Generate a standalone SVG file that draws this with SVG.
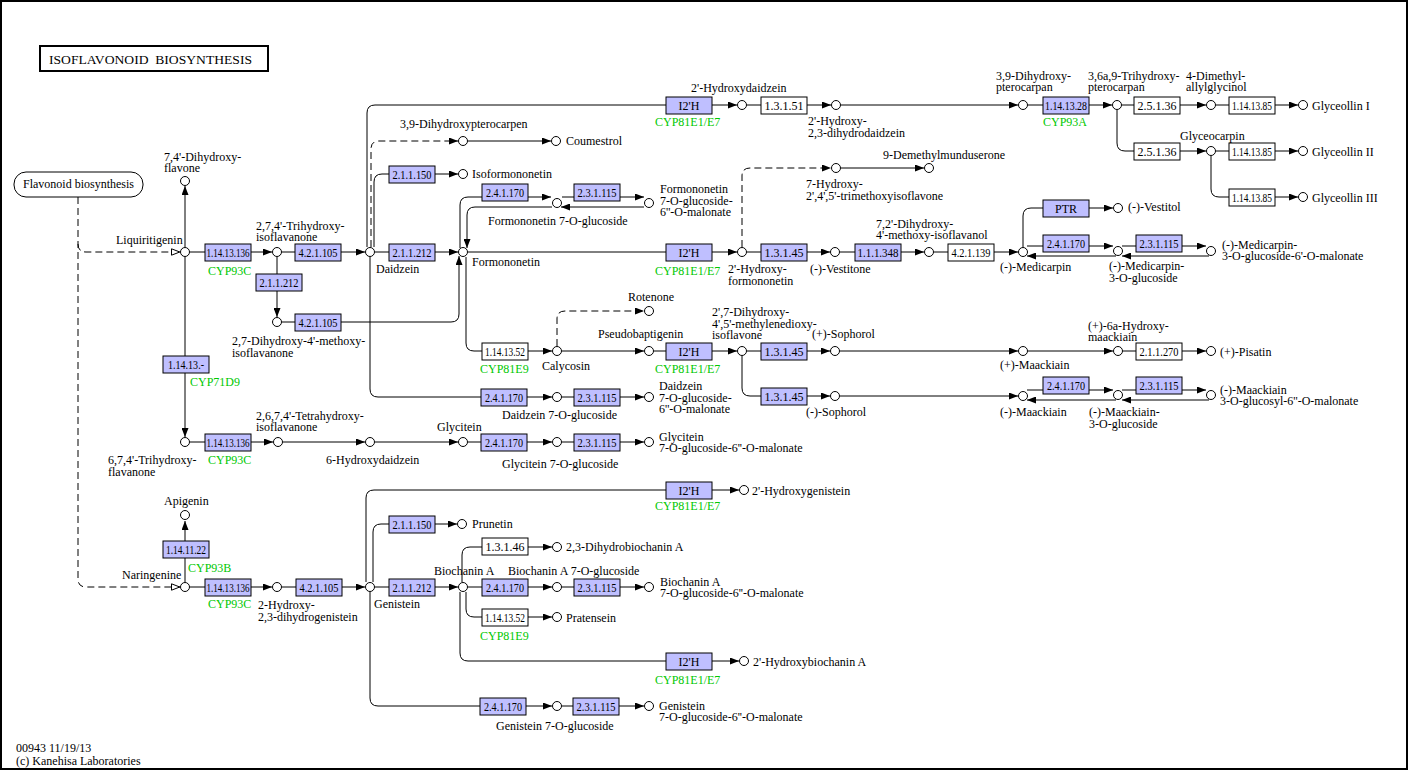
<svg xmlns="http://www.w3.org/2000/svg" width="1411" height="771" viewBox="0 0 1411 771">
<style>
text{font-family:"Liberation Serif","Times New Roman",serif;font-size:12px;fill:#000}
.g{fill:#00c800}
.ec{text-anchor:middle}
.b{fill:#bfbfff;stroke:#000;stroke-width:1}
.w{fill:#fff;stroke:#000;stroke-width:1}
circle{fill:#fff;stroke:#000;stroke-width:1}
.ln{fill:none;stroke:#000;stroke-width:1}
.ar{marker-end:url(#a)}
.op{marker-end:url(#o)}
.da{stroke-dasharray:7 4}
</style>
<defs>
<marker id="a" viewBox="0 0 9 7" refX="9" refY="3.5" markerWidth="9" markerHeight="7" markerUnits="userSpaceOnUse" orient="auto"><path d="M0,0 L9,3.5 L0,7 z" fill="#000" stroke="none"/></marker>
<marker id="o" viewBox="0 0 10 8" refX="9.5" refY="4" markerWidth="10" markerHeight="8" markerUnits="userSpaceOnUse" orient="auto"><path d="M1,0.8 L9.3,4 L1,7.2 z" fill="#fff" stroke="#000" stroke-width="1"/></marker>
</defs>
<rect x="0" y="0" width="1411" height="771" fill="#fff"/>
<rect x="1" y="1" width="1406" height="768" fill="none" stroke="#000" stroke-width="2"/>
<g id="title"><rect x="40" y="46" width="228" height="25" fill="#fff" stroke="#000" stroke-width="2"/><text x="49" y="64" font-size="13" textLength="203" lengthAdjust="spacingAndGlyphs">ISOFLAVONOID&#160; BIOSYNTHESIS</text></g>
<g id="footer"><text x="16" y="752">00943 11/19/13</text><text x="16" y="765">(c) Kanehisa Laboratories</text></g>
<g id="map-flavonoid"><rect x="14" y="172" width="129" height="25" rx="12" fill="#fff" stroke="#000"/><text x="78.5" y="188" text-anchor="middle">Flavonoid biosynthesis</text></g>

<g id="connectors">
<path class="ln da op" d="M78,197 V579 Q78,587 86,587 H180"/>
<path class="ln da op" d="M78,244 Q78,252 86,252 H180"/>
<path class="ln ar" d="M185,247 V186"/>
<path class="ln ar" d="M185,257 V437"/>
<path class="ln ar" d="M190,252 H272"/>
<path class="ln ar" d="M282,252 H365"/>
<path class="ln ar" d="M375,252 H458"/>
<path class="ln ar" d="M468,252 H737"/>
<path class="ln ar" d="M747,252 H830"/>
<path class="ln ar" d="M840,252 H924"/>
<path class="ln ar" d="M934,252 H1018"/>
<path class="ln ar" d="M1023,247 V216 Q1023,208 1031,208 H1113"/>
<path class="ln ar" d="M1027,246 H1113"/>
<path class="ln ar" d="M1116,256 H1027"/>
<path class="ln ar" d="M1122,246 H1206"/>
<path class="ln ar" d="M1209,256 H1122"/>
<path class="ln ar" d="M367,247 V113 Q367,105 375,105 H737"/>
<path class="ln ar" d="M747,105 H831"/>
<path class="ln ar" d="M841,105 H1018"/>
<path class="ln ar" d="M1028,105 H1112"/>
<path class="ln ar" d="M1122,105 H1206"/>
<path class="ln ar" d="M1216,105 H1298"/>
<path class="ln ar" d="M1117,110 V143 Q1117,151 1125,151 H1206"/>
<path class="ln ar" d="M1216,151 H1298"/>
<path class="ln ar" d="M1211,156 V189 Q1211,197 1219,197 H1298"/>
<path class="ln da ar" d="M371,247 V149 Q371,141 379,141 H458"/>
<path class="ln ar" d="M468,141 H551"/>
<path class="ln ar" d="M374,247 V182 Q374,174 382,174 H458"/>
<path class="ln ar" d="M460,248 V205 Q460,197 468,197 H551"/>
<path class="ln ar" d="M562,197 H644"/>
<path class="ln ar" d="M644,207 H561"/>
<path class="ln ar" d="M552,207 H475 Q467,207 467,215 V248"/>
<path class="ln ar" d="M277,257 V317"/>
<path class="ln ar" d="M282,322 H451 Q459,322 459,314 V256"/>
<path class="ln ar" d="M466,257 V343 Q466,351 474,351 H552"/>
<path class="ln da ar" d="M557,346 V319 Q557,311 565,311 H644"/>
<path class="ln ar" d="M562,351 H644"/>
<path class="ln ar" d="M654,351 H737"/>
<path class="ln ar" d="M747,351 H830"/>
<path class="ln ar" d="M840,351 H1018"/>
<path class="ln ar" d="M1028,351 H1113"/>
<path class="ln ar" d="M1123,351 H1206"/>
<path class="ln ar" d="M742,356 V388 Q742,396 750,396 H830"/>
<path class="ln ar" d="M840,396 H1018"/>
<path class="ln ar" d="M1027,390 H1113"/>
<path class="ln ar" d="M1116,400 H1027"/>
<path class="ln ar" d="M1122,390 H1206"/>
<path class="ln ar" d="M1209,400 H1122"/>
<path class="ln ar" d="M370,257 V389 Q370,397 378,397 H552"/>
<path class="ln ar" d="M562,397 H644"/>
<path class="ln ar" d="M190,442 H273"/>
<path class="ln ar" d="M283,442 H365"/>
<path class="ln ar" d="M375,442 H458"/>
<path class="ln ar" d="M468,442 H552"/>
<path class="ln ar" d="M562,442 H644"/>
<path class="ln ar" d="M185,582 V521"/>
<path class="ln ar" d="M190,587 H272"/>
<path class="ln ar" d="M282,587 H365"/>
<path class="ln ar" d="M366,582 V498 Q366,490 374,490 H739"/>
<path class="ln ar" d="M373,582 V532 Q373,524 381,524 H457"/>
<path class="ln ar" d="M375,587 H458"/>
<path class="ln ar" d="M462,582 V555 Q462,547 470,547 H552"/>
<path class="ln ar" d="M468,587 H552"/>
<path class="ln ar" d="M562,587 H644"/>
<path class="ln ar" d="M466,592 V609 Q466,617 474,617 H552"/>
<path class="ln ar" d="M460,592 V653 Q460,661 468,661 H739"/>
<path class="ln ar" d="M370,592 V698 Q370,706 378,706 H552"/>
<path class="ln ar" d="M562,706 H644"/>
<path class="ln da ar" d="M742,247 V176 Q742,168 750,168 H831"/>
<path class="ln ar" d="M841,168 H924"/>
</g>

<g id="enzymes">
<g id="e1"><rect class="b" x="205" y="244" width="46" height="17"/><text class="ec" x="228" y="257" textLength="43" lengthAdjust="spacingAndGlyphs">1.14.13.136</text><text class="g" x="208" y="275">CYP93C</text></g>
<g id="e2"><rect class="b" x="295" y="244" width="46" height="17"/><text class="ec" x="318" y="257" textLength="39" lengthAdjust="spacingAndGlyphs">4.2.1.105</text></g>
<g id="e3"><rect class="b" x="389" y="244" width="46" height="17"/><text class="ec" x="412" y="257" textLength="39" lengthAdjust="spacingAndGlyphs">2.1.1.212</text></g>
<g id="e4"><rect class="b" x="666" y="244" width="46" height="17"/><text class="ec" x="689" y="257">I2'H</text><text class="g" x="655" y="275">CYP81E1/E7</text></g>
<g id="e5"><rect class="b" x="761" y="244" width="46" height="17"/><text class="ec" x="784" y="257">1.3.1.45</text></g>
<g id="e6"><rect class="b" x="855" y="244" width="46" height="17"/><text class="ec" x="878" y="257" textLength="41" lengthAdjust="spacingAndGlyphs">1.1.1.348</text></g>
<g id="e7"><rect class="w" x="948" y="244" width="46" height="17"/><text class="ec" x="971" y="257" textLength="39" lengthAdjust="spacingAndGlyphs">4.2.1.139</text></g>
<g id="e8"><rect class="b" x="1043" y="200" width="46" height="17"/><text class="ec" x="1066" y="213">PTR</text></g>
<g id="e9"><rect class="b" x="1043" y="235" width="46" height="17"/><text class="ec" x="1066" y="248" textLength="38" lengthAdjust="spacingAndGlyphs">2.4.1.170</text></g>
<g id="e10"><rect class="b" x="1136" y="235" width="46" height="17"/><text class="ec" x="1159" y="248" textLength="39" lengthAdjust="spacingAndGlyphs">2.3.1.115</text></g>
<g id="e11"><rect class="b" x="666" y="97" width="46" height="17"/><text class="ec" x="689" y="110">I2'H</text><text class="g" x="655" y="126">CYP81E1/E7</text></g>
<g id="e12"><rect class="w" x="761" y="97" width="46" height="17"/><text class="ec" x="784" y="110">1.3.1.51</text></g>
<g id="e13"><rect class="b" x="1043" y="97" width="46" height="17"/><text class="ec" x="1066" y="110" textLength="42" lengthAdjust="spacingAndGlyphs">1.14.13.28</text><text class="g" x="1043" y="126">CYP93A</text></g>
<g id="e14"><rect class="w" x="1134" y="97" width="46" height="17"/><text class="ec" x="1157" y="110">2.5.1.36</text></g>
<g id="e15"><rect class="w" x="1229" y="97" width="46" height="17"/><text class="ec" x="1252" y="110" textLength="40" lengthAdjust="spacingAndGlyphs">1.14.13.85</text></g>
<g id="e16"><rect class="w" x="1134" y="143" width="46" height="17"/><text class="ec" x="1157" y="156">2.5.1.36</text></g>
<g id="e17"><rect class="w" x="1229" y="143" width="46" height="17"/><text class="ec" x="1252" y="156" textLength="40" lengthAdjust="spacingAndGlyphs">1.14.13.85</text></g>
<g id="e18"><rect class="w" x="1229" y="189" width="46" height="17"/><text class="ec" x="1252" y="202" textLength="40" lengthAdjust="spacingAndGlyphs">1.14.13.85</text></g>
<g id="e19"><rect class="b" x="389" y="166" width="46" height="17"/><text class="ec" x="412" y="179" textLength="39" lengthAdjust="spacingAndGlyphs">2.1.1.150</text></g>
<g id="e20"><rect class="b" x="482" y="184" width="46" height="17"/><text class="ec" x="505" y="197" textLength="38" lengthAdjust="spacingAndGlyphs">2.4.1.170</text></g>
<g id="e21"><rect class="b" x="574" y="184" width="46" height="17"/><text class="ec" x="597" y="197" textLength="39" lengthAdjust="spacingAndGlyphs">2.3.1.115</text></g>
<g id="e22"><rect class="b" x="256" y="274" width="46" height="17"/><text class="ec" x="279" y="287" textLength="39" lengthAdjust="spacingAndGlyphs">2.1.1.212</text></g>
<g id="e23"><rect class="b" x="295" y="314" width="46" height="17"/><text class="ec" x="318" y="327" textLength="39" lengthAdjust="spacingAndGlyphs">4.2.1.105</text></g>
<g id="e24"><rect class="b" x="163" y="356" width="46" height="17"/><text class="ec" x="186" y="369" textLength="36" lengthAdjust="spacingAndGlyphs">1.14.13.-</text><text class="g" x="190" y="386">CYP71D9</text></g>
<g id="e25"><rect class="w" x="482" y="343" width="46" height="17"/><text class="ec" x="505" y="356" textLength="40" lengthAdjust="spacingAndGlyphs">1.14.13.52</text><text class="g" x="480" y="373">CYP81E9</text></g>
<g id="e26"><rect class="b" x="666" y="343" width="46" height="17"/><text class="ec" x="689" y="356">I2'H</text><text class="g" x="655" y="373">CYP81E1/E7</text></g>
<g id="e27"><rect class="b" x="761" y="343" width="46" height="17"/><text class="ec" x="784" y="356">1.3.1.45</text></g>
<g id="e28"><rect class="w" x="1136" y="343" width="46" height="17"/><text class="ec" x="1159" y="356" textLength="39" lengthAdjust="spacingAndGlyphs">2.1.1.270</text></g>
<g id="e29"><rect class="b" x="761" y="388" width="46" height="17"/><text class="ec" x="784" y="401">1.3.1.45</text></g>
<g id="e30"><rect class="b" x="1043" y="377" width="46" height="17"/><text class="ec" x="1066" y="390" textLength="38" lengthAdjust="spacingAndGlyphs">2.4.1.170</text></g>
<g id="e31"><rect class="b" x="1136" y="377" width="46" height="17"/><text class="ec" x="1159" y="390" textLength="39" lengthAdjust="spacingAndGlyphs">2.3.1.115</text></g>
<g id="e32"><rect class="b" x="481" y="389" width="46" height="17"/><text class="ec" x="504" y="402" textLength="38" lengthAdjust="spacingAndGlyphs">2.4.1.170</text></g>
<g id="e33"><rect class="b" x="574" y="389" width="46" height="17"/><text class="ec" x="597" y="402" textLength="39" lengthAdjust="spacingAndGlyphs">2.3.1.115</text></g>
<g id="e34"><rect class="b" x="205" y="434" width="46" height="17"/><text class="ec" x="228" y="447" textLength="43" lengthAdjust="spacingAndGlyphs">1.14.13.136</text><text class="g" x="208" y="464">CYP93C</text></g>
<g id="e35"><rect class="b" x="481" y="434" width="46" height="17"/><text class="ec" x="504" y="447" textLength="38" lengthAdjust="spacingAndGlyphs">2.4.1.170</text></g>
<g id="e36"><rect class="b" x="574" y="434" width="46" height="17"/><text class="ec" x="597" y="447" textLength="39" lengthAdjust="spacingAndGlyphs">2.3.1.115</text></g>
<g id="e37"><rect class="b" x="163" y="541" width="46" height="17"/><text class="ec" x="186" y="554" textLength="40" lengthAdjust="spacingAndGlyphs">1.14.11.22</text><text class="g" x="188" y="572">CYP93B</text></g>
<g id="e38"><rect class="b" x="205" y="579" width="46" height="17"/><text class="ec" x="228" y="592" textLength="43" lengthAdjust="spacingAndGlyphs">1.14.13.136</text><text class="g" x="208" y="608">CYP93C</text></g>
<g id="e39"><rect class="b" x="296" y="579" width="46" height="17"/><text class="ec" x="319" y="592" textLength="39" lengthAdjust="spacingAndGlyphs">4.2.1.105</text></g>
<g id="e40"><rect class="b" x="666" y="482" width="46" height="17"/><text class="ec" x="689" y="495">I2'H</text><text class="g" x="655" y="510">CYP81E1/E7</text></g>
<g id="e41"><rect class="b" x="389" y="516" width="46" height="17"/><text class="ec" x="412" y="529" textLength="39" lengthAdjust="spacingAndGlyphs">2.1.1.150</text></g>
<g id="e42"><rect class="b" x="389" y="579" width="46" height="17"/><text class="ec" x="412" y="592" textLength="39" lengthAdjust="spacingAndGlyphs">2.1.1.212</text></g>
<g id="e43"><rect class="w" x="482" y="538" width="46" height="17"/><text class="ec" x="505" y="551">1.3.1.46</text></g>
<g id="e44"><rect class="b" x="482" y="579" width="46" height="17"/><text class="ec" x="505" y="592" textLength="38" lengthAdjust="spacingAndGlyphs">2.4.1.170</text></g>
<g id="e45"><rect class="b" x="574" y="579" width="46" height="17"/><text class="ec" x="597" y="592" textLength="39" lengthAdjust="spacingAndGlyphs">2.3.1.115</text></g>
<g id="e46"><rect class="w" x="482" y="609" width="46" height="17"/><text class="ec" x="505" y="622" textLength="40" lengthAdjust="spacingAndGlyphs">1.14.13.52</text><text class="g" x="480" y="640">CYP81E9</text></g>
<g id="e47"><rect class="b" x="666" y="653" width="46" height="17"/><text class="ec" x="689" y="666">I2'H</text><text class="g" x="655" y="684">CYP81E1/E7</text></g>
<g id="e48"><rect class="b" x="480" y="698" width="46" height="17"/><text class="ec" x="503" y="711" textLength="38" lengthAdjust="spacingAndGlyphs">2.4.1.170</text></g>
<g id="e49"><rect class="b" x="573" y="698" width="46" height="17"/><text class="ec" x="596" y="711" textLength="39" lengthAdjust="spacingAndGlyphs">2.3.1.115</text></g>
</g>

<g id="compounds">
<g id="liquiritigenin"><circle cx="185" cy="252" r="4.5"/><text x="116" y="244">Liquiritigenin</text></g>
<g id="dihydroxyflavone"><circle cx="185" cy="181" r="4.5"/><text x="164" y="160.5">7,4'-Dihydroxy-</text><text x="164" y="172">flavone</text></g>
<g id="trihydroxyisoflavanone"><circle cx="277" cy="252" r="4.5"/><text x="256" y="229.5">2,7,4'-Trihydroxy-</text><text x="256" y="241">isoflavanone</text></g>
<g id="daidzein"><circle cx="370" cy="252" r="4.5"/><text x="376" y="273">Daidzein</text></g>
<g id="formononetin"><circle cx="463" cy="252" r="4.5"/><text x="472" y="266">Formononetin</text></g>
<g id="hydroxyformononetin"><circle cx="742" cy="252" r="4.5"/><text x="728" y="273">2'-Hydroxy-</text><text x="728" y="284.5">formononetin</text></g>
<g id="vestitone"><circle cx="835" cy="252" r="4.5"/><text x="810" y="273">(-)-Vestitone</text></g>
<g id="isoflavanol"><circle cx="929" cy="252" r="4.5"/><text x="876" y="227.5">7,2'-Dihydroxy-</text><text x="876" y="239">4'-methoxy-isoflavanol</text></g>
<g id="medicarpin"><circle cx="1023" cy="252" r="4.5"/><text x="1000" y="271">(-)-Medicarpin</text></g>
<g id="vestitol"><circle cx="1118" cy="208" r="4.5"/><text x="1128" y="211">(-)-Vestitol</text></g>
<g id="medicarpin-glucoside"><circle cx="1118" cy="251" r="4.5"/><text x="1109" y="270">(-)-Medicarpin-</text><text x="1109" y="281.5">3-O-glucoside</text></g>
<g id="medicarpin-malonate"><circle cx="1211" cy="251" r="4.5"/><text x="1222" y="248.5">(-)-Medicarpin-</text><text x="1222" y="260">3-O-glucoside-6'-O-malonate</text></g>
<g id="hydroxydaidzein"><circle cx="742" cy="105" r="4.5"/><text x="691" y="92">2'-Hydroxydaidzein</text></g>
<g id="dihydrodaidzein"><circle cx="836" cy="105" r="4.5"/><text x="808" y="125">2'-Hydroxy-</text><text x="808" y="136.5">2,3-dihydrodaidzein</text></g>
<g id="dihydroxypterocarpan"><circle cx="1023" cy="105" r="4.5"/><text x="996" y="79.5">3,9-Dihydroxy-</text><text x="996" y="91">pterocarpan</text></g>
<g id="trihydroxypterocarpan"><circle cx="1117" cy="105" r="4.5"/><text x="1088" y="79.5">3,6a,9-Trihydroxy-</text><text x="1088" y="91">pterocarpan</text></g>
<g id="dimethylallylglycinol"><circle cx="1211" cy="105" r="4.5"/><text x="1186" y="79.5">4-Dimethyl-</text><text x="1186" y="91">allylglycinol</text></g>
<g id="glyceollin1"><circle cx="1303" cy="105" r="4.5"/><text x="1312" y="110">Glyceollin I</text></g>
<g id="glyceocarpin"><circle cx="1211" cy="151" r="4.5"/><text x="1180" y="140">Glyceocarpin</text></g>
<g id="glyceollin2"><circle cx="1303" cy="151" r="4.5"/><text x="1312" y="156">Glyceollin II</text></g>
<g id="glyceollin3"><circle cx="1303" cy="197" r="4.5"/><text x="1312" y="202">Glyceollin III</text></g>
<g id="dihydroxypterocarpen"><circle cx="463" cy="141" r="4.5"/><text x="400" y="128">3,9-Dihydroxypterocarpen</text></g>
<g id="coumestrol"><circle cx="556" cy="141" r="4.5"/><text x="566" y="145">Coumestrol</text></g>
<g id="isoformononetin"><circle cx="463" cy="174" r="4.5"/><text x="472" y="178">Isoformononetin</text></g>
<g id="formononetin-glucoside"><circle cx="557" cy="203" r="4.5"/><text x="488" y="225">Formononetin 7-O-glucoside</text></g>
<g id="formononetin-malonate"><circle cx="649" cy="203" r="4.5"/><text x="660" y="193">Formononetin</text><text x="660" y="204.5">7-O-glucoside-</text><text x="660" y="216">6''-O-malonate</text></g>
<g id="trimethoxyisoflavone"><circle cx="836" cy="168" r="4.5"/><text x="806" y="188">7-Hydroxy-</text><text x="806" y="199.5">2',4',5'-trimethoxyisoflavone</text></g>
<g id="demethylmunduserone"><circle cx="929" cy="168" r="4.5"/><text x="883" y="159">9-Demethylmunduserone</text></g>
<g id="methoxyisoflavanone"><circle cx="277" cy="322" r="4.5"/><text x="232" y="345">2,7-Dihydroxy-4'-methoxy-</text><text x="232" y="356.5">isoflavanone</text></g>
<g id="calycosin"><circle cx="557" cy="351" r="4.5"/><text x="542" y="370">Calycosin</text></g>
<g id="rotenone"><circle cx="649" cy="311" r="4.5"/><text x="628" y="301">Rotenone</text></g>
<g id="pseudobaptigenin"><circle cx="649" cy="351" r="4.5"/><text x="598" y="338">Pseudobaptigenin</text></g>
<g id="methylenedioxyisoflavone"><circle cx="742" cy="351" r="4.5"/><text x="712" y="316">2',7-Dihydroxy-</text><text x="712" y="327.5">4',5'-methylenedioxy-</text><text x="712" y="339">isoflavone</text></g>
<g id="p-sophorol"><circle cx="835" cy="351" r="4.5"/><text x="812" y="338">(+)-Sophorol</text></g>
<g id="p-maackiain"><circle cx="1023" cy="351" r="4.5"/><text x="1000" y="369">(+)-Maackiain</text></g>
<g id="hydroxymaackiain"><circle cx="1118" cy="351" r="4.5"/><text x="1088" y="329.5">(+)-6a-Hydroxy-</text><text x="1088" y="341">maackiain</text></g>
<g id="pisatin"><circle cx="1211" cy="351" r="4.5"/><text x="1220" y="356">(+)-Pisatin</text></g>
<g id="m-sophorol"><circle cx="835" cy="396" r="4.5"/><text x="806" y="416">(-)-Sophorol</text></g>
<g id="m-maackiain"><circle cx="1023" cy="396" r="4.5"/><text x="1000" y="416">(-)-Maackiain</text></g>
<g id="maackiain-glucoside"><circle cx="1118" cy="395" r="4.5"/><text x="1089" y="416">(-)-Maackiain-</text><text x="1089" y="427.5">3-O-glucoside</text></g>
<g id="maackiain-malonate"><circle cx="1211" cy="395" r="4.5"/><text x="1220" y="393.5">(-)-Maackiain</text><text x="1220" y="405">3-O-glucosyl-6''-O-malonate</text></g>
<g id="daidzein-glucoside"><circle cx="557" cy="397" r="4.5"/><text x="502" y="419">Daidzein 7-O-glucoside</text></g>
<g id="daidzein-malonate"><circle cx="649" cy="397" r="4.5"/><text x="659" y="390">Daidzein</text><text x="659" y="401.5">7-O-glucoside-</text><text x="659" y="413">6''-O-malonate</text></g>
<g id="trihydroxyflavanone"><circle cx="185" cy="442" r="4.5"/><text x="108" y="464">6,7,4'-Trihydroxy-</text><text x="108" y="475.5">flavanone</text></g>
<g id="tetrahydroxyisoflavanone"><circle cx="278" cy="442" r="4.5"/><text x="256" y="419.5">2,6,7,4'-Tetrahydroxy-</text><text x="256" y="431">isoflavanone</text></g>
<g id="hydroxydaidzein6"><circle cx="370" cy="442" r="4.5"/><text x="326" y="464">6-Hydroxydaidzein</text></g>
<g id="glycitein"><circle cx="463" cy="442" r="4.5"/><text x="437" y="431">Glycitein</text></g>
<g id="glycitein-glucoside"><circle cx="557" cy="442" r="4.5"/><text x="502" y="468">Glycitein 7-O-glucoside</text></g>
<g id="glycitein-malonate"><circle cx="649" cy="442" r="4.5"/><text x="659" y="440.5">Glycitein</text><text x="659" y="452">7-O-glucoside-6''-O-malonate</text></g>
<g id="apigenin"><circle cx="185" cy="515" r="4.5"/><text x="164" y="505">Apigenin</text></g>
<g id="naringenine"><circle cx="185" cy="587" r="4.5"/><text x="122" y="579">Naringenine</text></g>
<g id="dihydrogenistein"><circle cx="277" cy="587" r="4.5"/><text x="258" y="609">2-Hydroxy-</text><text x="258" y="620.5">2,3-dihydrogenistein</text></g>
<g id="genistein"><circle cx="370" cy="587" r="4.5"/><text x="374" y="608">Genistein</text></g>
<g id="hydroxygenistein"><circle cx="744" cy="490" r="4.5"/><text x="752" y="495">2'-Hydroxygenistein</text></g>
<g id="prunetin"><circle cx="462" cy="524" r="4.5"/><text x="472" y="528">Prunetin</text></g>
<g id="biochanin"><circle cx="463" cy="587" r="4.5"/><text x="434" y="575">Biochanin A</text></g>
<g id="dihydrobiochanin"><circle cx="557" cy="547" r="4.5"/><text x="566" y="551">2,3-Dihydrobiochanin A</text></g>
<g id="biochanin-glucoside"><circle cx="557" cy="587" r="4.5"/><text x="508" y="575">Biochanin A 7-O-glucoside</text></g>
<g id="biochanin-malonate"><circle cx="649" cy="587" r="4.5"/><text x="660" y="585.5">Biochanin A</text><text x="660" y="597">7-O-glucoside-6''-O-malonate</text></g>
<g id="pratensein"><circle cx="557" cy="617" r="4.5"/><text x="566" y="622">Pratensein</text></g>
<g id="hydroxybiochanin"><circle cx="744" cy="661" r="4.5"/><text x="753" y="666">2'-Hydroxybiochanin A</text></g>
<g id="genistein-glucoside"><circle cx="557" cy="706" r="4.5"/><text x="496" y="730">Genistein 7-O-glucoside</text></g>
<g id="genistein-malonate"><circle cx="649" cy="706" r="4.5"/><text x="659" y="709.5">Genistein</text><text x="659" y="721">7-O-glucoside-6''-O-malonate</text></g>
</g>
</svg>
